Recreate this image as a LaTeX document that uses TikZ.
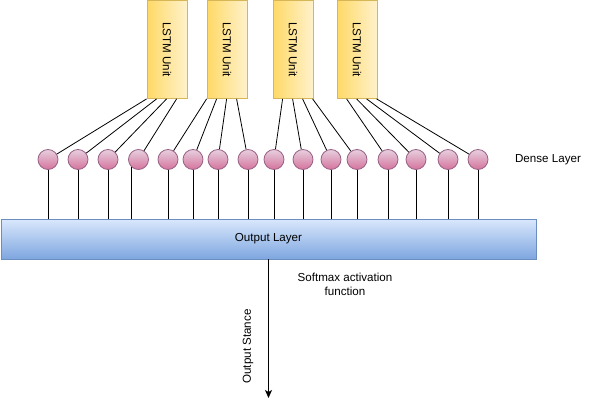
\documentclass[tikz,border=0pt]{standalone}
\usepackage{fontspec}
\setmainfont{Liberation Sans}
\usetikzlibrary{calc,arrows.meta}

\definecolor{unitLeft}{HTML}{FFD966}
\definecolor{unitRight}{HTML}{FFF2CC}
\definecolor{unitLine}{HTML}{D6B656}
\definecolor{dotTop}{HTML}{E6D0DE}
\definecolor{dotBottom}{HTML}{D5739D}
\definecolor{dotLine}{HTML}{996185}
\definecolor{outTop}{HTML}{DAE8FC}
\definecolor{outBottom}{HTML}{7EA6E0}
\definecolor{outLine}{HTML}{6C8EBF}

\begin{document}
\begin{tikzpicture}[x=1pt,y=-1pt,line width=0.8pt,
  every node/.style={font=\fontsize{11.6}{14}\selectfont},
  unit/.style={draw=unitLine,left color=unitLeft,right color=unitRight,
    minimum width=40pt,minimum height=98pt,inner sep=0pt},
  dense/.style={circle,draw=dotLine,top color=dotTop,bottom color=dotBottom,
    minimum size=20pt,inner sep=0pt},
  outbox/.style={draw=outLine,top color=outTop,bottom color=outBottom,
    minimum width=535pt,minimum height=40pt,inner sep=0pt}]
  \useasboundingbox (0,0) rectangle (589,409);

  %% LSTM units on top
  \foreach \x [count=\i] in {167,227,293,357}
  {
    \node[unit] (U\i) at (\x,49.5) {};
    \node[rotate=-90] (UL\i) at (U\i.center) {LSTM Unit};
  }

  %% Dense layer neurons
  \foreach \x [count=\i] in {48,78,108,138.5,168,193,218,248,274,303,331,357,388,416,448,478}
  {
    \node[dense] (D\i) at (\x,159.5) {};
  }
  \node (DENSE) at (548,159.5) {Dense Layer};

  %% Output layer
  \node[outbox] (OUT) at (268.5,239) {Output Layer};

  %% Units to neurons
  \foreach \u/\o/\d in {1/0/1,1/10/2,1/20/3,1/30/4,2/0/5,2/10/6,2/20/7,2/30/8,
                        3/10/9,3/20/10,3/30/11,3/40/12,4/10/13,4/20/14,4/30/15,4/40/16}
  {
    \draw ($(U\u.south west)+(\o,0)$) -- (D\d);
  }

  %% Neurons down to output layer
  \foreach \i/\a in {1/south,2/south,3/south,4/-135,5/south,6/south,7/south,8/south,
                     9/south,10/south,11/south,12/south,13/south,14/south,15/south,16/south}
  {
    \draw (D\i.\a) -- (D\i.\a |- OUT.north);
  }

  %% Output arrow
  \coordinate (STANCE) at (268.5,398);
  \draw[-{Stealth[length=8pt,width=7pt,inset=2pt]}] (OUT.south) -- (STANCE);
  \node[rotate=90] (STANCELBL) at (248,346.5) {Output Stance};
  \node[align=center] (SOFTMAX) at (345,284.5) {Softmax activation\\function};
\end{tikzpicture}
\end{document}
